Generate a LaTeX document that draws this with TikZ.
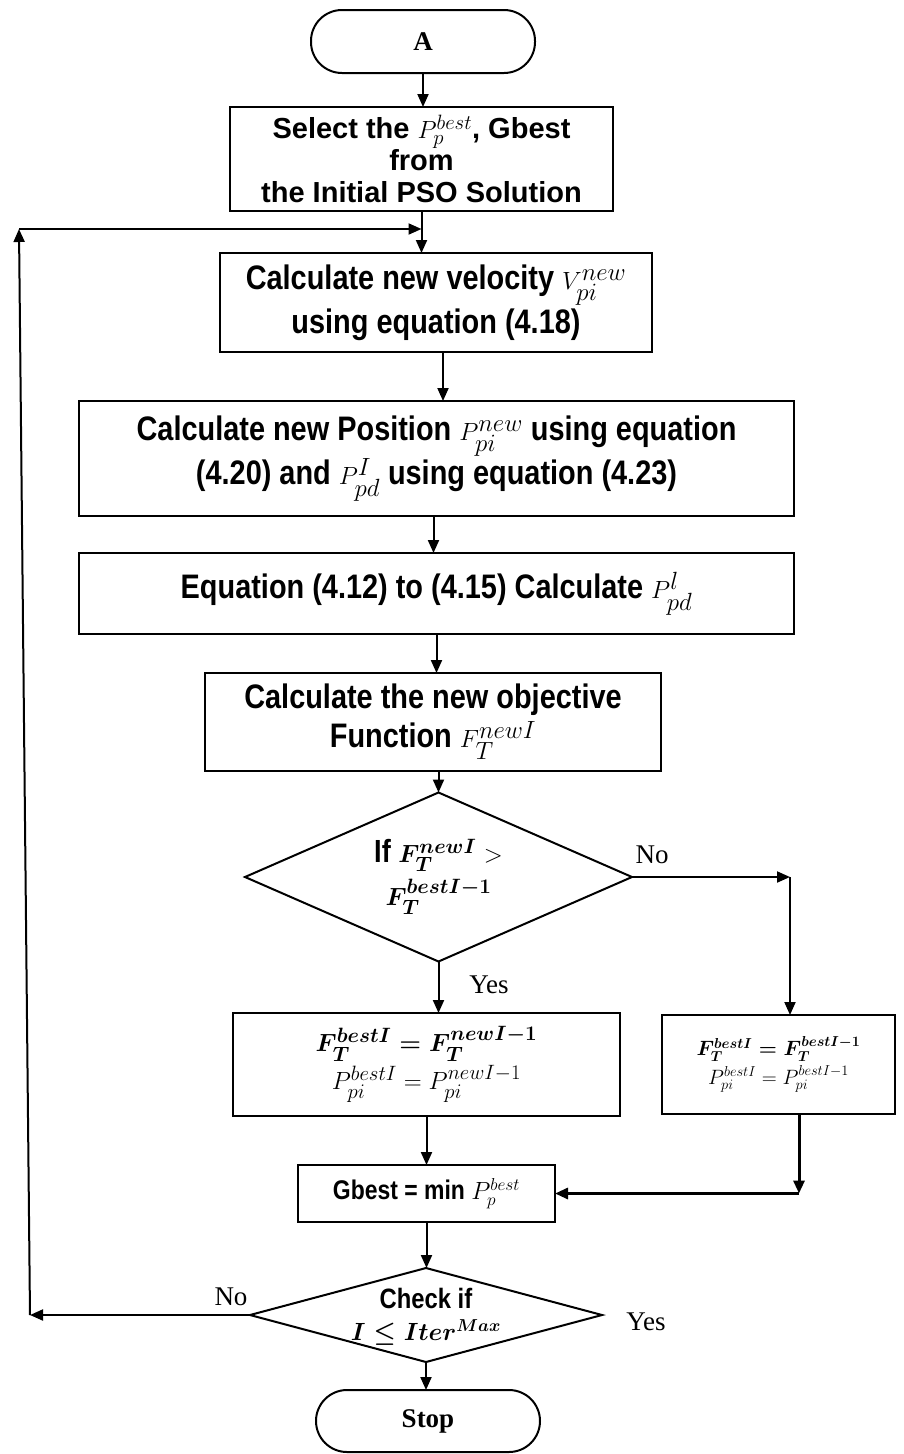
\documentclass[tikz,border=0pt]{standalone}
\usepackage[no-math]{fontspec}
\usepackage{amsmath}
\setmainfont{Liberation Serif}
\newfontfamily\sansbold{Liberation Sans}
\newfontfamily\narrowsans[FakeStretch=0.85]{Liberation Sans}
\usetikzlibrary{arrows.meta,shapes.geometric}

\begin{document}
\begin{tikzpicture}[x=1pt,y=-1pt,
  every node/.style={inner sep=0pt, outer sep=0pt},
  procbox/.style={draw, line width=2.2pt, rectangle, align=center},
  termbox/.style={draw, line width=2pt, rectangle, rounded corners=31pt,
    font=\bfseries\fontsize{27}{30}\selectfont},
  decide/.style={draw, line width=2pt, diamond, align=center},
  arr/.style={line width=2pt, -{Triangle[length=13pt,width=11pt]}},
  plainline/.style={line width=2pt},
  lbl/.style={font=\fontsize{27}{30}\selectfont},
  narrowtext/.style={font=\narrowsans\bfseries\fontsize{34}{39}\selectfont},
]
\useasboundingbox (0,0) rectangle (904,1454);
\fill[white] (0,0) rectangle (904,1454);

% --- nodes -------------------------------------------------------------
\node[termbox, minimum width=224pt, minimum height=63pt] (start) at (423,41.5) {A};

\node[procbox, minimum width=383pt, minimum height=104pt,
      font=\sansbold\bfseries\fontsize{29}{32}\selectfont] (sel) at (421.5,159)
  {Select the $P_p^{best}$, Gbest\\from\\the Initial PSO Solution};

\node[procbox, narrowtext, minimum width=432pt, minimum height=99pt] (vel) at (436,302.5)
  {Calculate new velocity $V_{pi}^{new}$\\[2pt]using equation (4.18)};

\node[procbox, narrowtext, minimum width=715pt, minimum height=115pt] (pos) at (436.5,458.5)
  {Calculate new Position $P_{pi}^{new}$ using equation\\[1pt](4.20) and $P_{pd}^{I}$ using equation (4.23)};

\node[procbox, narrowtext, minimum width=715pt, minimum height=81pt] (eqn) at (436.5,593.5)
  {Equation (4.12) to (4.15) Calculate $P_{pd}^{l}$};

\node[procbox, narrowtext, minimum width=456pt, minimum height=98pt] (obj) at (433,722)
  {Calculate the new objective\\Function $F_T^{newI}$};

\node[decide, minimum width=387pt, minimum height=169pt, aspect=2.29,
      font=\narrowsans\bfseries\fontsize{32}{34}\selectfont] (d1) at (438.5,877)
  {If {\boldmath$F_T^{newI}$} $>$\\[7pt]{\boldmath$F_T^{bestI-1}$}};

\node[procbox, minimum width=387pt, minimum height=103pt,
      font=\fontsize{29}{34}\selectfont] (lb) at (426.5,1064.5)
  {{\boldmath$F_T^{bestI}=F_T^{newI-1}$}\\[4pt]$P_{pi}^{bestI}=P_{pi}^{newI-1}$};

\node[procbox, minimum width=233pt, minimum height=99pt,
      font=\fontsize{22}{24}\selectfont] (rb) at (778.5,1064.5)
  {{\boldmath$F_T^{bestI}=F_T^{bestI-1}$}\\[3pt]$P_{pi}^{bestI}=P_{pi}^{bestI-1}$};

\node[procbox, minimum width=257pt, minimum height=57pt,
      font=\narrowsans\bfseries\fontsize{27}{30}\selectfont] (gb) at (426.5,1193.5)
  {Gbest = min $P_p^{best}$};

% check diamond: outline and its text, set a little below the centre
\node[decide, minimum width=352pt, minimum height=94pt, aspect=3.74] (d2) at (426,1315) {};
\node[align=center, font=\narrowsans\bfseries\fontsize{28}{30}\selectfont] (d2text)
  at ([yshift=-2pt]d2.center)
  {Check if\\[2pt]{\fontsize{23}{26}\selectfont\boldmath$I\le Iter^{Max}$}};

\node[termbox, minimum width=224pt, minimum height=62pt] (stop) at (428,1421) {Stop};

% --- branch labels -----------------------------------------------------
\node[lbl] (no1)  at (652,855)  {No};
\node[lbl] (yes1) at (489,985)  {Yes};
\node[lbl] (no2)  at (231,1297) {No};
\node[lbl] (yes2) at (646,1322) {Yes};

% --- helper points -----------------------------------------------------
\coordinate (noturn)  at (790,877);
\coordinate (looptop) at (19,229);
\coordinate (loopbot) at (30,1315);
\coordinate (rbturn)  at (799,1193.5);

% --- connectors --------------------------------------------------------
\draw[arr] (start.south) -- (start.south |- sel.north);
\draw[plainline] (sel.south) -- (sel.south |- looptop);
\draw[arr] (sel.south |- looptop) -- (sel.south |- vel.north);
\draw[arr] ([xshift=7pt]vel.south) -- ([xshift=7pt]vel.south |- pos.north);
\draw[arr] ([xshift=-3pt]pos.south) -- ([xshift=-3pt]pos.south |- eqn.north);
\draw[arr] (eqn.south) -- (eqn.south |- obj.north);
\draw[arr] (d1.north |- obj.south) -- (d1.north);

\draw[arr] (d1.east) -- (noturn);
\draw[arr] (noturn) -- (noturn |- rb.north);
\draw[arr] (d1.south) -- (d1.south |- lb.north);

\draw[arr] (lb.south) -- (lb.south |- gb.north);
\draw[arr, line width=3pt] (rbturn |- rb.south) -- (rbturn);
\draw[arr, line width=3pt] (rbturn) -- (gb.east);

\draw[arr] (gb.south) -- (gb.south |- d2.north);
\draw[arr] (d2.south) -- (d2.south |- stop.north);

\draw[arr] (d2.west) -- (loopbot);
\draw[arr] (loopbot) -- (looptop);
\draw[arr] (looptop) -- (sel.south |- looptop);
\end{tikzpicture}
\end{document}
